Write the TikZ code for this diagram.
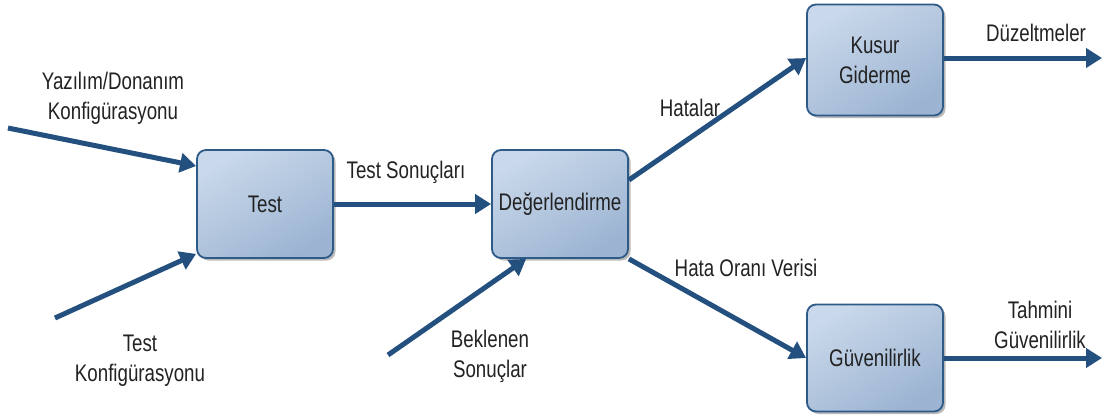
\documentclass[tikz,border=0pt]{standalone}
\usepackage{fontspec}
\setmainfont{Liberation Sans}[FakeStretch=0.78]
\usetikzlibrary{arrows.meta,shadows,calc}
\definecolor{flow}{HTML}{24507F}
\definecolor{boxtop}{HTML}{C9D8EA}
\definecolor{boxbot}{HTML}{9CB4D2}
\definecolor{boxline}{HTML}{2E5A88}
\definecolor{ink}{HTML}{222222}
\tikzset{
  txt/.style={font=\fontsize{24}{30}\selectfont, text=ink},
  procbox/.style={txt, draw=boxline, line width=1.8pt, rounded corners=9pt,
    top color=boxtop, bottom color=boxbot, shading angle=30,
    minimum width=136pt, minimum height=108pt, align=center,
    drop shadow={shadow xshift=2.5pt, shadow yshift=-2.5pt, fill=black!45, opacity=0.6}},
  flowarrow/.style={draw=flow, line width=5pt,
    -{Triangle[length=16pt,width=19pt]}},
  lbl/.style={txt, align=center, inner sep=0pt}
}
\begin{document}
\begin{tikzpicture}[x=1pt,y=-1pt]
\useasboundingbox (0,0) rectangle (1107,418);

% process boxes
\node[procbox] (test) at (265,204) {Test};
\node[procbox] (deg)  at (560,204) {Değerlendirme};
\node[procbox, minimum height=111pt] (kusur) at (875,60) {Kusur\\Giderme};
\node[procbox, minimum height=107pt] (guv)   at (875,358) {Güvenilirlik};

% free ends of the connectors
\coordinate (swin)  at (8,128);
\coordinate (cfgin) at (55,318);
\coordinate (expin) at (388,355);
\coordinate (fixout) at (1102,58);
\coordinate (relout) at (1102,358);

% connectors
\draw[flowarrow] (swin) -- ([yshift=38pt]test.west);
\draw[flowarrow] (cfgin) -- ([yshift=5pt]test.south west);
\draw[flowarrow] (test.east) -- (deg.west);
\draw[flowarrow] (expin) -- ([xshift=35pt]deg.south west);
\draw[flowarrow] ([yshift=24pt]deg.east) -- ([yshift=2pt]kusur.west);
\draw[flowarrow] (deg.south east) -- (guv.west);
\draw[flowarrow] ([yshift=2pt]kusur.east) -- (fixout);
\draw[flowarrow] (guv.east) -- (relout);

% labels
\node[lbl] (l1) at (113,98) {Yazılım/Donanım\\Konfigürasyonu};
\node[lbl] (l2) at (140,361) {Test\\Konfigürasyonu};
\node[lbl] (l3) at (406,172) {Test Sonuçları};
\node[lbl] (l4) at (490,356) {Beklenen\\Sonuçlar};
\node[lbl] (l5) at (690,108) {Hatalar};
\node[lbl] (l6) at (746,268) {Hata Oranı Verisi};
\node[lbl] (l7) at (1036,33) {Düzeltmeler};
\node[lbl] (l8) at (1040,325) {Tahmini\\Güvenilirlik};
\end{tikzpicture}
\end{document}
